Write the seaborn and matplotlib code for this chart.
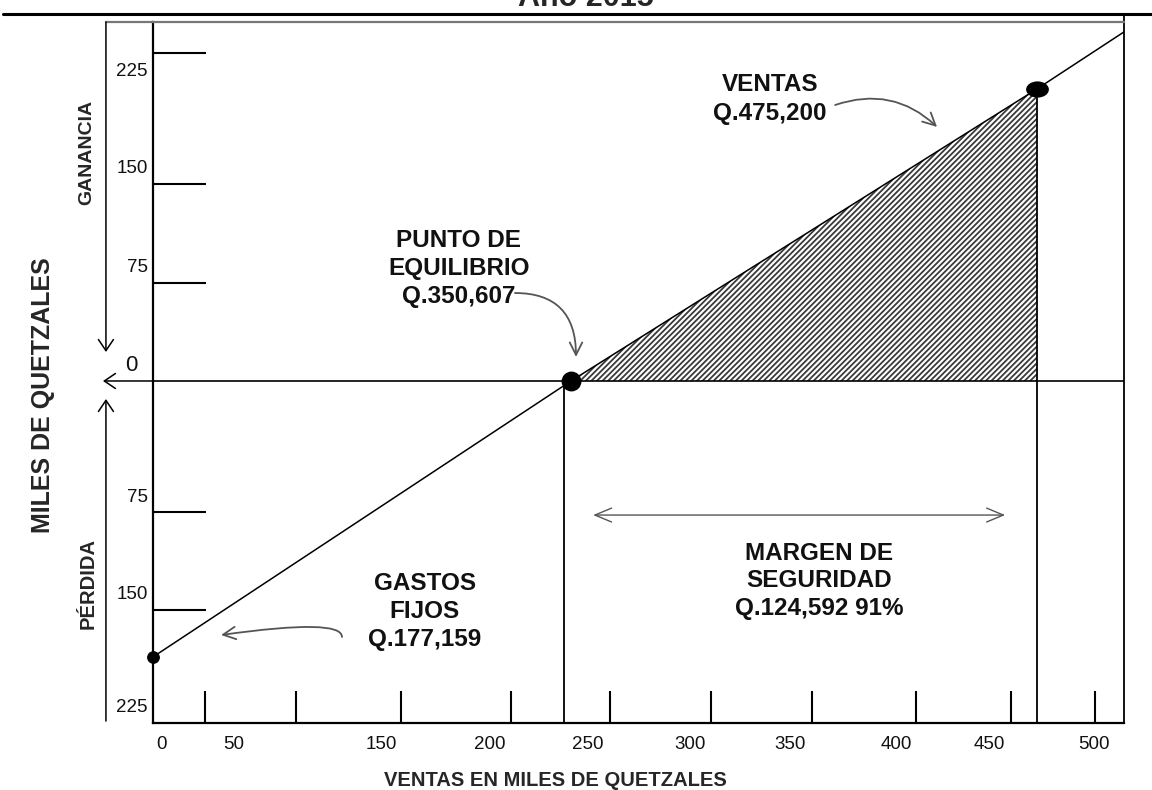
import matplotlib
matplotlib.use("Agg")
import matplotlib.pyplot as plt
import seaborn as sns
from matplotlib.path import Path
from matplotlib.transforms import Affine2D

# ---------------- data (chart units) ----------------
line_x = [0.0, 224.7, 475.2, 522.0]          # sales line (thousands, drawing scale)
line_y = [-211.4, 0.0, 223.7, 267.4]
fixed_x, fixed_y = [0.0], [-211.4]            # gastos fijos
be_x, be_y = [224.7], [0.0]                   # punto de equilibrio
sales_x, sales_y = [475.2], [223.7]           # ventas
be_drop_x = 221.0
sales_drop_x = 475.2
x_tick_pos = [28.0, 76.9, 133.3, 192.5, 245.7, 300.0, 354.3, 410.2, 461.3, 506.5]
x_label_pos = [4.8, 43.5, 122.6, 181.2, 233.9, 288.7, 342.5, 399.5, 449.5, 505.9]
x_labels = ["0", "50", "150", "200", "250", "300", "350", "400", "450", "500"]
y_tick_pos = [251.3, 150.9, 75.1, -100.4, -175.4]
y_label_pos = [236.7, 162.4, 87.3, -88.9, -163.9, -250.5]
y_labels = ["225", "150", "75", "75", "150", "225"]
margin_x = [236.6, 458.1]
margin_y = -102.7

# ---------------- style ----------------
sns.set_theme(style="white")
plt.rcParams["font.family"] = ["Liberation Sans", "DejaVu Sans"]
plt.rcParams["hatch.linewidth"] = 1.3
plt.rcParams["hatch.color"] = "#3a3a3a"

fig = plt.figure(figsize=(11.52, 7.9), dpi=100)
ax = fig.add_axes([153 / 1152, 67 / 790, 971 / 1152, 701 / 790])
ax.set_xlim(0, 522)
ax.set_ylim(-262, 275)
ax.set_xticks([])
ax.set_yticks([])
for side in ["left", "bottom"]:
    ax.spines[side].set_color("black")
    ax.spines[side].set_linewidth(1.6)
ax.spines["right"].set_color("black")
ax.spines["right"].set_linewidth(1.3)
ax.spines["top"].set_color("#777777")
ax.spines["top"].set_linewidth(1.6)

# hatched profit triangle
ax.fill_between([be_x[0], sales_x[0]], [0, 0], [be_y[0], sales_y[0]],
                facecolor="white", edgecolor="#3a3a3a", hatch="//////", linewidth=0, zorder=1)

# zero line, drop lines
ax.hlines(0, 0, 522, color="black", lw=1.2, zorder=2)
ax.vlines([be_drop_x], -262, 0, color="black", lw=1.3, zorder=2)
ax.vlines([sales_drop_x], -262, sales_y[0], color="black", lw=1.3, zorder=2)

# sales line
sns.lineplot(x=line_x, y=line_y, ax=ax, color="black", linewidth=1.1,
             estimator=None, sort=False, zorder=3)

# points
sns.scatterplot(x=fixed_x, y=fixed_y, ax=ax, s=72, color="black", edgecolor="black",
                zorder=5, clip_on=False)
sns.scatterplot(x=be_x, y=be_y, ax=ax, s=175, color="black", edgecolor="black", zorder=5)
ellipse = Affine2D().scale(1.45, 1.0).transform_path(Path.unit_circle())
sns.scatterplot(x=sales_x, y=sales_y, ax=ax, s=230, color="black", edgecolor="black",
                marker=ellipse, zorder=5)

# ticks (hand drawn)
ax.hlines(y_tick_pos, 0, 28.5, color="black", lw=1.5)
ax.vlines(x_tick_pos, -262, -237.5, color="black", lw=1.5)
for xp, lab in zip(x_label_pos, x_labels):
    ax.text(xp, -278.8, lab, ha="center", va="center", fontsize=13.5, color="#111111")
for yp, lab in zip(y_label_pos, y_labels):
    ax.text(-2.7, yp, lab, ha="right", va="center", fontsize=13.5, color="#111111")
ax.text(-11.8, 11.5, "0", ha="center", va="center", fontsize=16, color="#111111")

# outer frame pieces
ax.plot([-80.6, 537.1], [281.1, 281.1], color="black", lw=2.2, clip_on=False)
ax.plot([522, 522], [275, 281.1], color="black", lw=1.3, clip_on=False)
ax.plot([-25.3, 0], [275, 275], color="#777777", lw=1.6, clip_on=False)


def arrow(start, end, style, color, lw, cs="arc3", ms=20):
    ax.annotate("", xy=end, xytext=start, xycoords="data",
                arrowprops=dict(arrowstyle=style, color=color, lw=lw, connectionstyle=cs,
                                shrinkA=0, shrinkB=0, mutation_scale=ms),
                annotation_clip=False)


frame_head = "->,head_length=0.4,head_width=0.27"
arrow((-25.3, 275), (-25.3, 22.2), frame_head, "black", 1.1)
arrow((-25.3, -260.5), (-25.3, -13.8), frame_head, "black", 1.1)
arrow((0, 0), (-26.9, 0), frame_head, "black", 1.1)

# side labels
ax.text(-35.5, 175.4, "GANANCIA", rotation=90, ha="center", va="center",
        fontsize=14, fontweight="bold")
ax.text(-35.0, -155.5, "PÉRDIDA", rotation=90, ha="center", va="center",
        fontsize=14.5, fontweight="bold")
ax.text(-59.1, -10.7, "MILES DE QUETZALES", rotation=90, ha="center", va="center",
        fontsize=18, fontweight="bold")
ax.text(216.1, -306.4, "VENTAS EN MILES DE QUETZALES", ha="center", va="center",
        fontsize=14.5, fontweight="bold")
ax.text(232.8, 287.6, "Año 2015", ha="center", va="baseline", fontsize=22, fontweight="bold")

# annotations
ann = dict(ha="center", va="center", fontsize=17.5, fontweight="bold", color="#111111")
ax.text(331.7, 216.0, "VENTAS\nQ.475,200", linespacing=1.38, **ann)
ax.text(164.5, 86.2, "PUNTO DE\nEQUILIBRIO\nQ.350,607", linespacing=1.27, **ann)
ax.text(146.2, -176.6, "GASTOS\nFIJOS\nQ.177,159", linespacing=1.26, **ann)
ax.text(358.1, -153.2, "MARGEN DE\nSEGURIDAD\nQ.124,592 91%", linespacing=1.24, **ann)

gray_head = "->,head_length=0.5,head_width=0.25"
arrow((366.7, 211.4), (421.5, 194.6), gray_head, "#555555", 1.3, cs="arc3,rad=-0.3", ms=18)
arrow((194.6, 67.4), (227.4, 18.4), gray_head, "#555555", 1.3,
      cs="angle3,angleA=0,angleB=90", ms=18)
arrow((101.6, -196.1), (36.6, -194.6), gray_head, "#555555", 1.3,
      cs="angle3,angleA=90,angleB=8", ms=18)
arrow((margin_x[0], margin_y), (margin_x[1], margin_y),
      "<->,head_length=0.6,head_width=0.25", "#555555", 1.0, ms=20)

fig.savefig("out.png", dpi=100, facecolor="white")
